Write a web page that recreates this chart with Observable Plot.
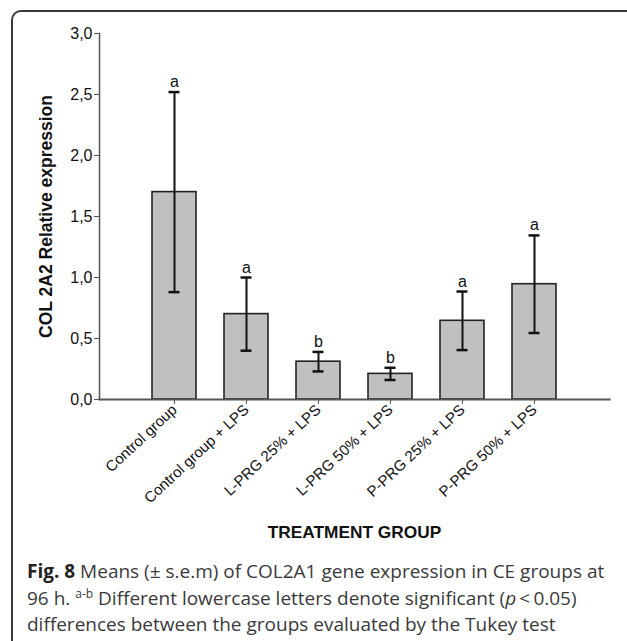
<!DOCTYPE html>
<html>
<head>
<meta charset="utf-8">
<script src="https://cdn.jsdelivr.net/npm/d3@7"></script>
<script src="https://cdn.jsdelivr.net/npm/@observablehq/plot@0.6"></script>
<style>
  html, body { margin: 0; padding: 0; background: #fff; overflow: hidden; }
  #page { position: relative; width: 627px; height: 641px; overflow: hidden; }
  #box {
    position: absolute; left: 11px; top: 10px; width: 900px; height: 900px;
    border: 2px solid #3a3a3a; border-radius: 10px; box-sizing: border-box;
  }
  #chart { position: absolute; left: 0; top: 0; }
  #caption {
    position: absolute; left: 27px; top: 558px; width: 600px;
    font-family: "Open Sans", sans-serif; font-size: 19px; line-height: 26.7px;
    color: #3a3a3a; white-space: nowrap;
  }
  #caption b { color: #222; }
  #caption sup { font-size: 12px; line-height: 0; vertical-align: 7px; }
</style>
</head>
<body>
<div id="page">
  <div id="box"></div>
  <div id="chart"></div>
  <div id="caption">
    <b>Fig. 8</b> Means (± s.e.m) of COL2A1 gene expression in CE groups at<br>
    96 h. <sup>a-b</sup> Different lowercase letters denote significant (<i>p</i>&thinsp;&lt;&thinsp;0.05)<br>
    differences between the groups evaluated by the Tukey test
  </div>
</div>
<script>
// Treatment groups
const groups = [
  "Control group",
  "Control group + LPS",
  "L-PRG 25% + LPS",
  "L-PRG 50% + LPS",
  "P-PRG 25% + LPS",
  "P-PRG 50% + LPS"
];
// Mean relative expression of COL 2A2
const means = [1.70, 0.70, 0.31, 0.21, 0.645, 0.945];
// Standard error of the mean
const sems = [0.82, 0.30, 0.08, 0.05, 0.24, 0.40];
// Tukey significance letters
const letters = ["a", "a", "b", "b", "a", "a"];
// Y axis ticks
const yTicks = [0, 0.5, 1.0, 1.5, 2.0, 2.5, 3.0];

const rows = groups.map((g, i) => ({
  group: g,
  mean: means[i],
  lo: means[i] - sems[i],
  hi: means[i] + sems[i],
  letter: letters[i]
}));

const comma = d => d.toFixed(1).replace(".", ",");

const chart = Plot.plot({
  width: 627,
  height: 558,
  marginLeft: 99,
  marginRight: 18,
  marginTop: 33,
  marginBottom: 159,
  style: {
    fontFamily: "'Liberation Sans', Arial, Helvetica, sans-serif",
    fontSize: "15px",
    color: "#111",
    background: "transparent"
  },
  x: { domain: groups, padding: 0.394, insetLeft: 23, insetRight: 23 },
  y: { domain: [0, 3] },
  marks: [
    Plot.barY(rows, { x: "group", y: "mean", fill: "#c0c0c0", stroke: "#222", strokeWidth: 1.6 }),
    Plot.ruleX(rows, { x: "group", y1: "lo", y2: "hi", stroke: "#111", strokeWidth: 2 }),
    Plot.tickY(rows, { x: "group", y: "hi", stroke: "#111", strokeWidth: 2.5, insetLeft: 16.5, insetRight: 16.5 }),
    Plot.tickY(rows, { x: "group", y: "lo", stroke: "#111", strokeWidth: 2.5, insetLeft: 16.5, insetRight: 16.5 }),
    Plot.text(rows, { x: "group", y: "hi", text: "letter", dy: -5, lineAnchor: "bottom", fontSize: 16, fill: "#111" }),
    Plot.axisY({ ticks: yTicks, tickFormat: comma, tickSize: 5, tickPadding: 2, label: null, fontSize: 16, stroke: "#555" }),
    Plot.axisX({ tickSize: 5, tickPadding: 3, tickRotate: -43, label: null, fontSize: 15, stroke: "#555" }),
    Plot.frame({ anchor: "left", stroke: "#555", strokeWidth: 1.5 }),
    Plot.frame({ anchor: "bottom", stroke: "#555", strokeWidth: 2 }),
    Plot.text(["COL 2A2 Relative expression"], {
      text: d => d, frameAnchor: "left", textAnchor: "middle", rotate: -90, dx: -53,
      fontWeight: "bold", fontSize: 17.5, fill: "#111"
    }),
    Plot.text(["TREATMENT GROUP"], {
      text: d => d, frameAnchor: "bottom", dy: 138,
      fontWeight: "bold", fontSize: 17.3, fill: "#111"
    })
  ]
});

document.getElementById("chart").appendChild(chart);
</script>
</body>
</html>
